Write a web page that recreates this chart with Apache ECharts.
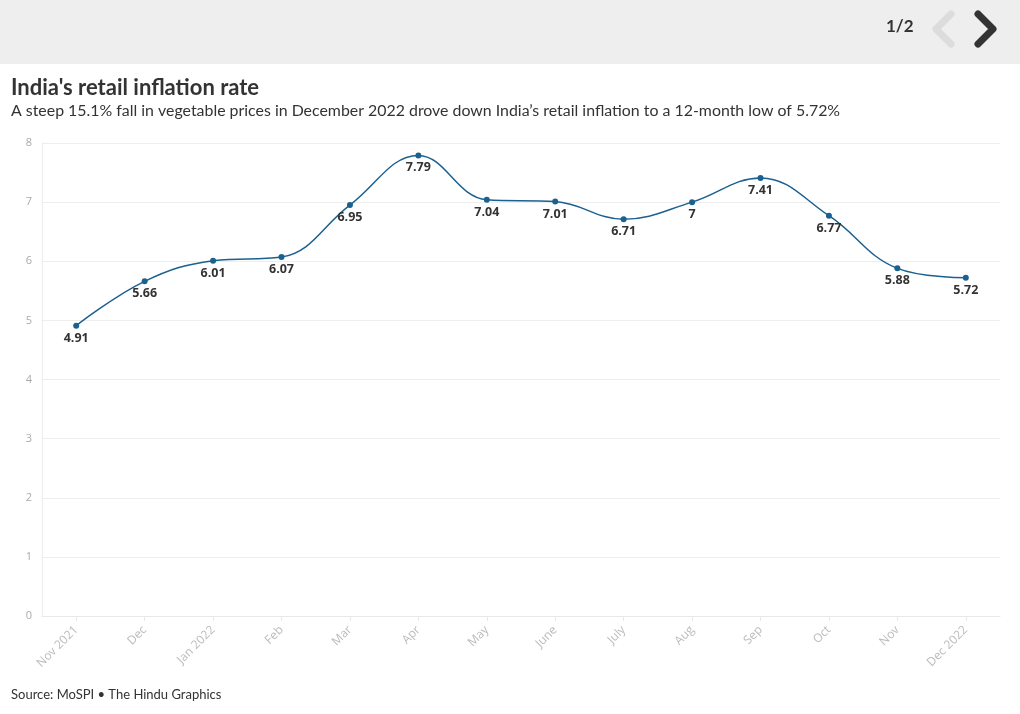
<!DOCTYPE html>
<html><head><meta charset="utf-8">
<script src="https://cdn.jsdelivr.net/npm/echarts@6/dist/echarts.min.js"></script>
<style>html,body{margin:0;padding:0;background:#fff}#c{width:1020px;height:714px}</style>
</head><body><div id="c"></div>
<script>
const categories = ["Nov 2021","Dec","Jan 2022","Feb","Mar","Apr","May","June","July","Aug","Sep","Oct","Nov","Dec 2022"];
const inflation = [4.91,5.66,6.01,6.07,6.95,7.79,7.04,7.01,6.71,7,7.41,6.77,5.88,5.72];
const yTicks = [0,1,2,3,4,5,6,7,8];

const chart = echarts.init(document.getElementById('c'), null, {renderer:'canvas'});
chart.setOption({
  animation:false,
  backgroundColor:'#fff',
  graphic:[
    {type:'rect', left:0, top:0, shape:{width:1020,height:64}, style:{fill:'#eeeeee'}},
    {type:'text', left:886, top:18, style:{text:'1/2', font:'bold 17px Lato, "Noto Sans"', fill:'#333'}},
    {type:'polyline', shape:{points:[[951,14],[936,29],[951,44]]}, style:{stroke:'#dcdcdc', lineWidth:7, fill:null, lineCap:'round', lineJoin:'round'}},
    {type:'polyline', shape:{points:[[978,14],[993,29],[978,44]]}, style:{stroke:'#333', lineWidth:7, fill:null, lineCap:'round', lineJoin:'round'}},
    {type:'text', left:11, top:77, style:{text:"India's retail inflation rate", font:'bold 22px Lato, "Noto Sans"', fill:'#333'}},
    {type:'text', left:11, top:103, style:{text:'A steep 15.1% fall in vegetable prices in December 2022 drove down India\u2019s retail inflation to a 12-month low of 5.72%', font:'15.9px Lato, "Noto Sans"', fill:'#333'}},
    {type:'text', left:11, top:688, style:{text:'Source: MoSPI \u2022 The Hindu Graphics', font:'13px Lato, "Noto Sans"', fill:'#333'}}
  ],
  grid:{left:42, right:20, top:143, bottom:98, containLabel:false},
  xAxis:{
    type:'category', data:categories, boundaryGap:true,
    axisLine:{show:true, lineStyle:{color:'#e8e8e8'}},
    axisTick:{show:true, alignWithLabel:true, length:5, lineStyle:{color:'#e8e8e8'}},
    axisLabel:{rotate:45, color:'#bbbbbb', fontSize:12, fontFamily:'"Open Sans", "Noto Sans"', margin:12, interval:0}
  },
  yAxis:{
    type:'value', min:0, max:8, interval:1,
    axisLine:{show:true, lineStyle:{color:'#ececec'}},
    axisTick:{show:false},
    splitLine:{lineStyle:{color:'#eeeeee'}},
    axisLabel:{color:'#aaaaaa', fontSize:11, fontFamily:'"Open Sans", "Noto Sans"', margin:10}
  },
  series:[{
    type:'line', data:inflation, smooth:0.4,
    symbol:'circle', symbolSize:6,
    lineStyle:{color:'#1b6190', width:1.5},
    itemStyle:{color:'#1b6190'},
    label:{show:true, position:'bottom', distance:3, color:'#333', fontWeight:'bold', fontSize:12.5, fontFamily:'"Open Sans", "Noto Sans"'}
  }]
});
</script></body></html>
